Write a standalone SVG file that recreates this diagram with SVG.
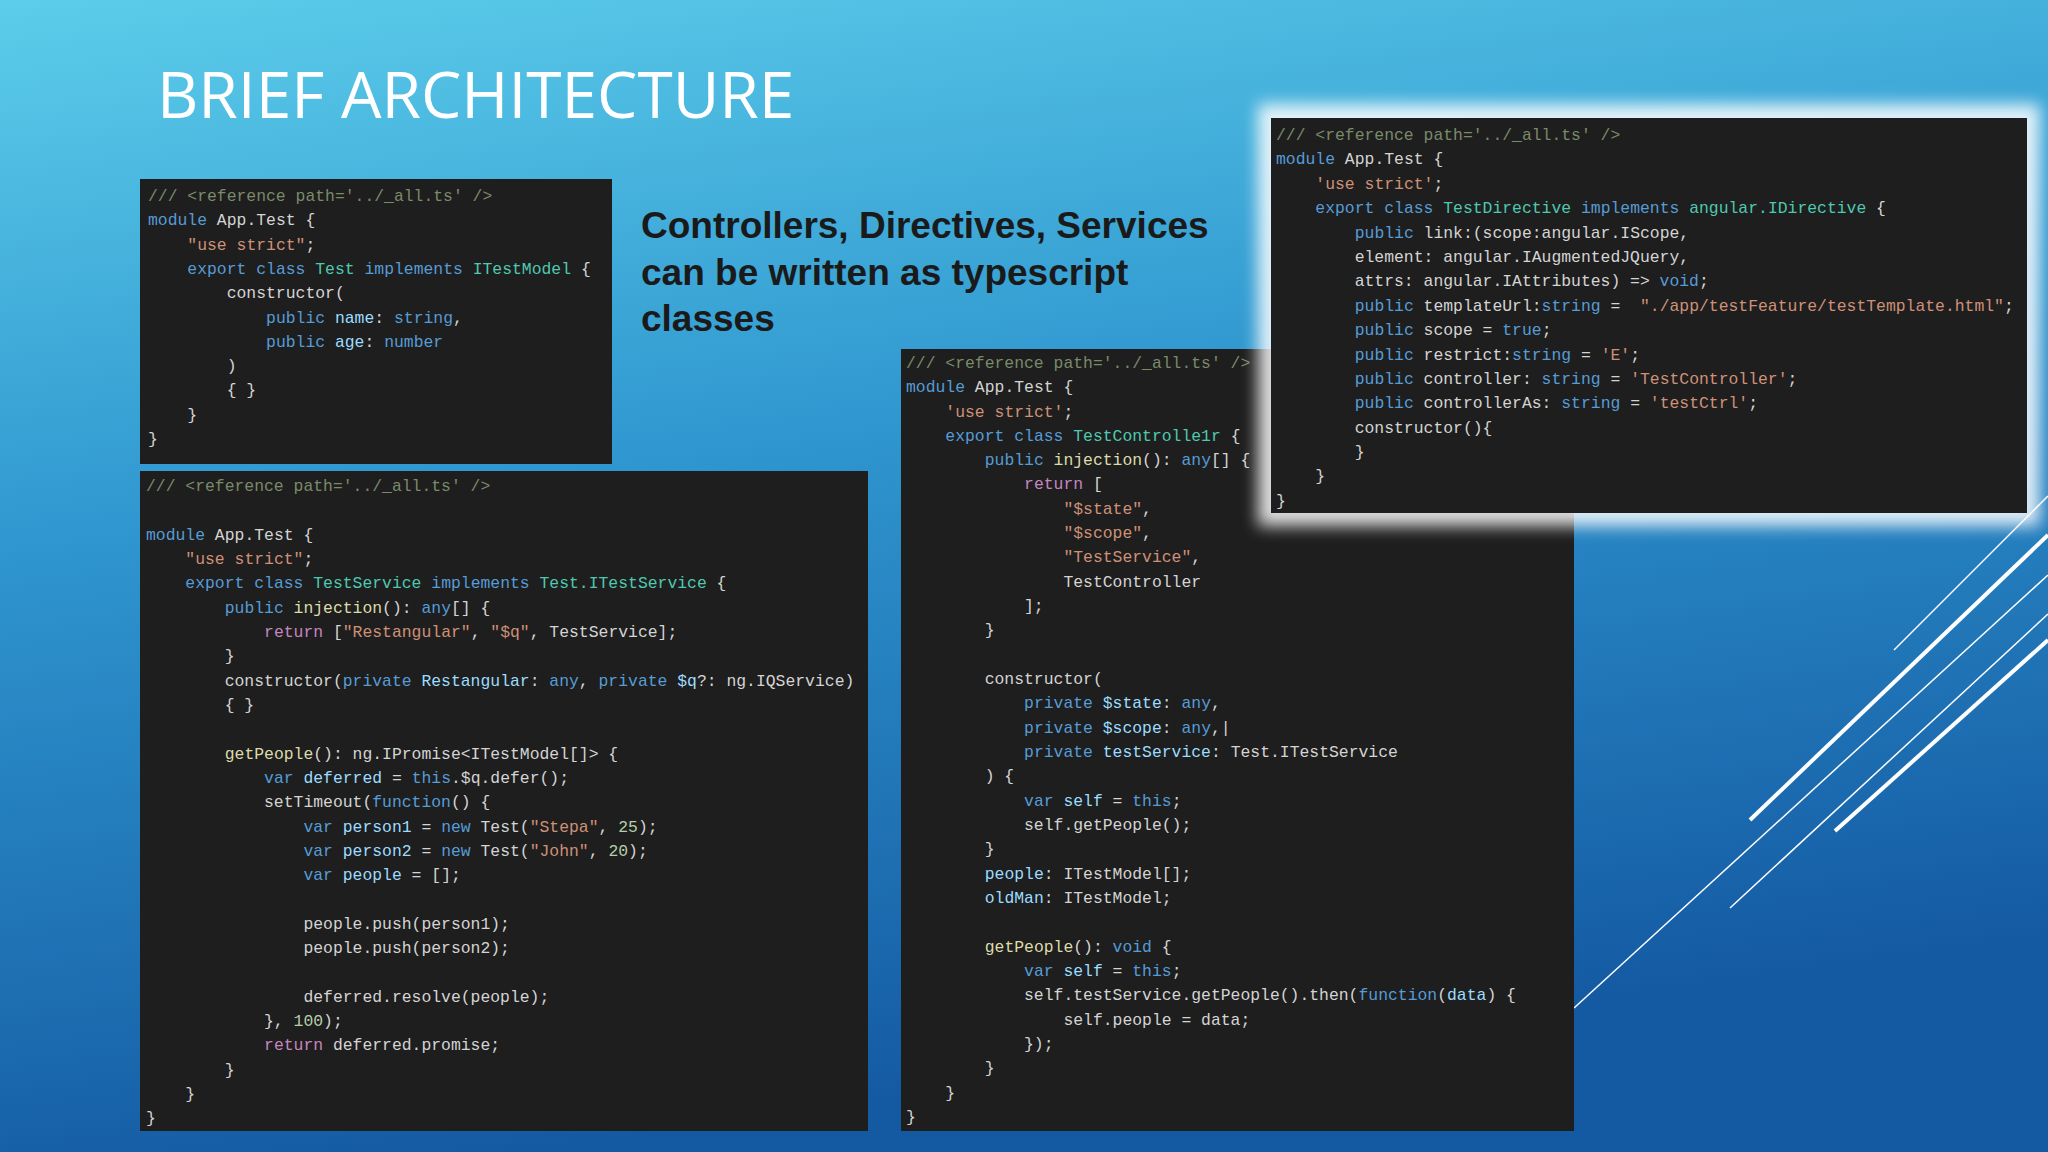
<svg xmlns="http://www.w3.org/2000/svg" width="2048" height="1152" viewBox="0 0 2048 1152">
<defs>
<linearGradient id="bg" x1="0" y1="0" x2="0.25" y2="1">
<stop offset="0" stop-color="#5ccdea"/>
<stop offset="0.45" stop-color="#2f96cf"/>
<stop offset="1" stop-color="#145aa3"/>
</linearGradient>
<filter id="glow" x="-10%" y="-10%" width="120%" height="120%"><feGaussianBlur stdDeviation="8"/></filter>
<style>
.code{font-family:"Liberation Mono","DejaVu Sans Mono",monospace;font-size:16.4px;fill:#d4d4d4;white-space:pre}
.k{fill:#569cd6}.t{fill:#4ec9b0}.s{fill:#ce9178}.c{fill:#7a8a6a}.v{fill:#9cdcfe}.n{fill:#b5cea8}.p{fill:#c586c0}.f{fill:#dcdcaa}
.panel{fill:#1e1e1e}
.deco{stroke:#ffffff;fill:none}
</style>
</defs>
<rect width="2048" height="1152" fill="url(#bg)"/>
<g id="decor">
<line class="deco" x1="1574" y1="1008" x2="2048" y2="575" stroke-width="1.5"/>
<line class="deco" x1="1730" y1="908" x2="2048" y2="614" stroke-width="1.5"/>
<line class="deco" x1="1750" y1="820" x2="2048" y2="535" stroke-width="4"/>
<line class="deco" x1="1835" y1="831" x2="2048" y2="640" stroke-width="4"/>
<line class="deco" x1="1894" y1="650" x2="2048" y2="496" stroke-width="1.5"/>
</g>
<text id="title" x="157" y="118" font-family="'Open Sans','Liberation Sans',sans-serif" font-size="64" fill="#ffffff">BRIEF ARCHITECTURE</text>
<g id="heading" font-family="'Liberation Sans',Arial,sans-serif" font-weight="bold" font-size="37" fill="#1a1a1a">
<text x="641" y="238">Controllers, Directives, Services</text>
<text x="641" y="285">can be written as typescript</text>
<text x="641" y="331">classes</text>
</g>

<g id="panel1" xml:space="preserve">
<rect class="panel" x="140" y="179" width="472" height="285"/>
<text class="code" x="148" y="201"><tspan class="c">/// &lt;reference path='../_all.ts' /&gt;</tspan></text>
<text class="code" x="148" y="225"><tspan class="k">module</tspan> App.Test {</text>
<text class="code" x="148" y="250">    <tspan class="s">"use strict"</tspan>;</text>
<text class="code" x="148" y="274">    <tspan class="k">export class</tspan> <tspan class="t">Test</tspan> <tspan class="k">implements</tspan> <tspan class="t">ITestModel</tspan> {</text>
<text class="code" x="148" y="298">        constructor(</text>
<text class="code" x="148" y="323">            <tspan class="k">public</tspan> <tspan class="v">name</tspan>: <tspan class="k">string</tspan>,</text>
<text class="code" x="148" y="347">            <tspan class="k">public</tspan> <tspan class="v">age</tspan>: <tspan class="k">number</tspan></text>
<text class="code" x="148" y="371">        )</text>
<text class="code" x="148" y="395">        { }</text>
<text class="code" x="148" y="420">    }</text>
<text class="code" x="148" y="444">}</text>
</g>

<g id="panel2" xml:space="preserve">
<rect class="panel" x="140" y="471" width="728" height="660"/>
<text class="code" x="146" y="491"><tspan class="c">/// &lt;reference path='../_all.ts' /&gt;</tspan></text>
<text class="code" x="146" y="540"><tspan class="k">module</tspan> App.Test {</text>
<text class="code" x="146" y="564">    <tspan class="s">"use strict"</tspan>;</text>
<text class="code" x="146" y="588">    <tspan class="k">export class</tspan> <tspan class="t">TestService</tspan> <tspan class="k">implements</tspan> <tspan class="t">Test.ITestService</tspan> {</text>
<text class="code" x="146" y="613">        <tspan class="k">public</tspan> <tspan class="f">injection</tspan>(): <tspan class="k">any</tspan>[] {</text>
<text class="code" x="146" y="637">            <tspan class="p">return</tspan> [<tspan class="s">"Restangular"</tspan>, <tspan class="s">"$q"</tspan>, TestService];</text>
<text class="code" x="146" y="661">        }</text>
<text class="code" x="146" y="686">        constructor(<tspan class="k">private</tspan> <tspan class="v">Restangular</tspan>: <tspan class="k">any</tspan>, <tspan class="k">private</tspan> <tspan class="v">$q</tspan>?: ng.IQService)</text>
<text class="code" x="146" y="710">        { }</text>
<text class="code" x="146" y="759">        <tspan class="f">getPeople</tspan>(): ng.IPromise&lt;ITestModel[]&gt; {</text>
<text class="code" x="146" y="783">            <tspan class="k">var</tspan> <tspan class="v">deferred</tspan> = <tspan class="k">this</tspan>.$q.defer();</text>
<text class="code" x="146" y="807">            setTimeout(<tspan class="k">function</tspan>() {</text>
<text class="code" x="146" y="832">                <tspan class="k">var</tspan> <tspan class="v">person1</tspan> = <tspan class="k">new</tspan> Test(<tspan class="s">"Stepa"</tspan>, <tspan class="n">25</tspan>);</text>
<text class="code" x="146" y="856">                <tspan class="k">var</tspan> <tspan class="v">person2</tspan> = <tspan class="k">new</tspan> Test(<tspan class="s">"John"</tspan>, <tspan class="n">20</tspan>);</text>
<text class="code" x="146" y="880">                <tspan class="k">var</tspan> <tspan class="v">people</tspan> = [];</text>
<text class="code" x="146" y="929">                people.push(person1);</text>
<text class="code" x="146" y="953">                people.push(person2);</text>
<text class="code" x="146" y="1002">                deferred.resolve(people);</text>
<text class="code" x="146" y="1026">            }, <tspan class="n">100</tspan>);</text>
<text class="code" x="146" y="1050">            <tspan class="p">return</tspan> deferred.promise;</text>
<text class="code" x="146" y="1075">        }</text>
<text class="code" x="146" y="1099">    }</text>
<text class="code" x="146" y="1123">}</text>
</g>

<g id="panel3" xml:space="preserve">
<rect class="panel" x="901" y="349" width="673" height="782"/>
<text class="code" x="906" y="368"><tspan class="c">/// &lt;reference path='../_all.ts' /&gt;</tspan></text>
<text class="code" x="906" y="392"><tspan class="k">module</tspan> App.Test {</text>
<text class="code" x="906" y="417">    <tspan class="s">'use strict'</tspan>;</text>
<text class="code" x="906" y="441">    <tspan class="k">export class</tspan> <tspan class="t">TestControlle1r</tspan> {</text>
<text class="code" x="906" y="465">        <tspan class="k">public</tspan> <tspan class="f">injection</tspan>(): <tspan class="k">any</tspan>[] {</text>
<text class="code" x="906" y="489">            <tspan class="p">return</tspan> [</text>
<text class="code" x="906" y="514">                <tspan class="s">"$state"</tspan>,</text>
<text class="code" x="906" y="538">                <tspan class="s">"$scope"</tspan>,</text>
<text class="code" x="906" y="562">                <tspan class="s">"TestService"</tspan>,</text>
<text class="code" x="906" y="587">                TestController</text>
<text class="code" x="906" y="611">            ];</text>
<text class="code" x="906" y="635">        }</text>
<text class="code" x="906" y="684">        constructor(</text>
<text class="code" x="906" y="708">            <tspan class="k">private</tspan> <tspan class="v">$state</tspan>: <tspan class="k">any</tspan>,</text>
<text class="code" x="906" y="733">            <tspan class="k">private</tspan> <tspan class="v">$scope</tspan>: <tspan class="k">any</tspan>,|</text>
<text class="code" x="906" y="757">            <tspan class="k">private</tspan> <tspan class="v">testService</tspan>: Test.ITestService</text>
<text class="code" x="906" y="781">        ) {</text>
<text class="code" x="906" y="806">            <tspan class="k">var</tspan> <tspan class="v">self</tspan> = <tspan class="k">this</tspan>;</text>
<text class="code" x="906" y="830">            self.getPeople();</text>
<text class="code" x="906" y="854">        }</text>
<text class="code" x="906" y="879">        <tspan class="v">people</tspan>: ITestModel[];</text>
<text class="code" x="906" y="903">        <tspan class="v">oldMan</tspan>: ITestModel;</text>
<text class="code" x="906" y="952">        <tspan class="f">getPeople</tspan>(): <tspan class="k">void</tspan> {</text>
<text class="code" x="906" y="976">            <tspan class="k">var</tspan> <tspan class="v">self</tspan> = <tspan class="k">this</tspan>;</text>
<text class="code" x="906" y="1000">            self.testService.getPeople().then(<tspan class="k">function</tspan>(<tspan class="v">data</tspan>) {</text>
<text class="code" x="906" y="1025">                self.people = data;</text>
<text class="code" x="906" y="1049">            });</text>
<text class="code" x="906" y="1073">        }</text>
<text class="code" x="906" y="1098">    }</text>
<text class="code" x="906" y="1122">}</text>
</g>

<g id="panel4" xml:space="preserve">
<rect x="1258" y="104" width="782" height="422" fill="#ffffff" opacity="0.85" filter="url(#glow)"/>
<rect class="panel" x="1271" y="118" width="756" height="395"/>
<text class="code" x="1276" y="140"><tspan class="c">/// &lt;reference path='../_all.ts' /&gt;</tspan></text>
<text class="code" x="1276" y="164"><tspan class="k">module</tspan> App.Test {</text>
<text class="code" x="1276" y="189">    <tspan class="s">'use strict'</tspan>;</text>
<text class="code" x="1276" y="213">    <tspan class="k">export class</tspan> <tspan class="t">TestDirective</tspan> <tspan class="k">implements</tspan> <tspan class="t">angular.IDirective</tspan> {</text>
<text class="code" x="1276" y="238">        <tspan class="k">public</tspan> link:(scope:angular.IScope,</text>
<text class="code" x="1276" y="262">        element: angular.IAugmentedJQuery,</text>
<text class="code" x="1276" y="286">        attrs: angular.IAttributes) =&gt; <tspan class="k">void</tspan>;</text>
<text class="code" x="1276" y="311">        <tspan class="k">public</tspan> templateUrl:<tspan class="k">string</tspan> =  <tspan class="s">"./app/testFeature/testTemplate.html"</tspan>;</text>
<text class="code" x="1276" y="335">        <tspan class="k">public</tspan> scope = <tspan class="k">true</tspan>;</text>
<text class="code" x="1276" y="360">        <tspan class="k">public</tspan> restrict:<tspan class="k">string</tspan> = <tspan class="s">'E'</tspan>;</text>
<text class="code" x="1276" y="384">        <tspan class="k">public</tspan> controller: <tspan class="k">string</tspan> = <tspan class="s">'TestController'</tspan>;</text>
<text class="code" x="1276" y="408">        <tspan class="k">public</tspan> controllerAs: <tspan class="k">string</tspan> = <tspan class="s">'testCtrl'</tspan>;</text>
<text class="code" x="1276" y="433">        constructor(){</text>
<text class="code" x="1276" y="457">        }</text>
<text class="code" x="1276" y="481">    }</text>
<text class="code" x="1276" y="506">}</text>
</g>
</svg>
